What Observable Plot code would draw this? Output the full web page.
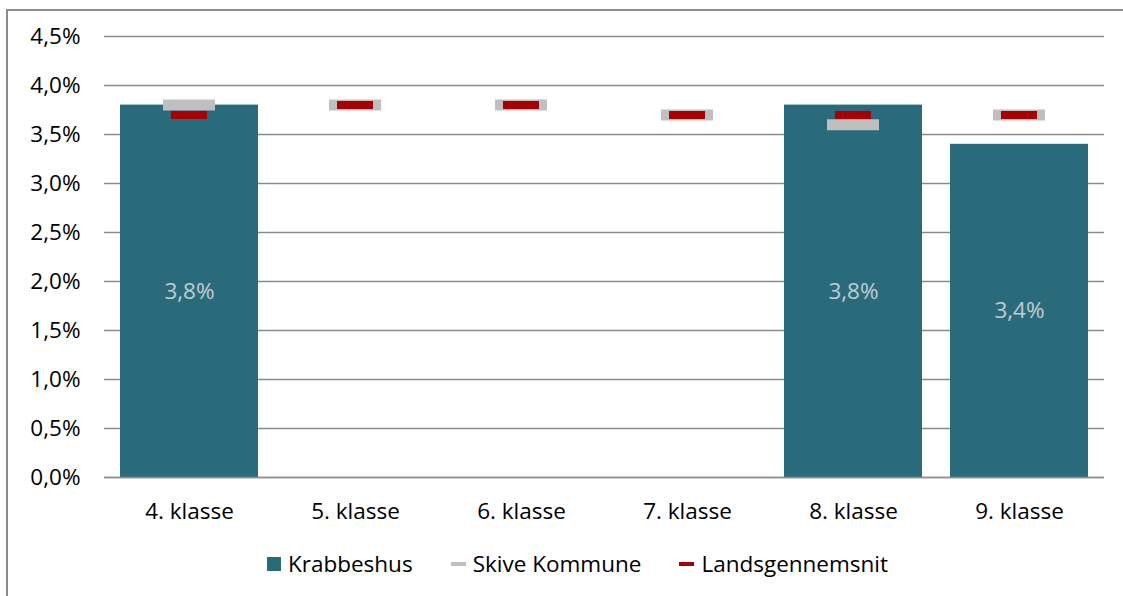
<!DOCTYPE html>
<html>
<head>
<meta charset="utf-8">
<script src="https://cdn.jsdelivr.net/npm/d3@7"></script>
<script src="https://cdn.jsdelivr.net/npm/@observablehq/plot@0.6"></script>
<style>
  html, body { margin: 0; padding: 0; background: #fff; }
  #wrap { position: relative; width: 1123px; height: 596px; overflow: hidden; font-family: "Open Sans", Lato, sans-serif; }
  #frame { position: absolute; left: 6px; top: 9px; width: 1200px; height: 700px; border: 2px solid #8c8c8c; box-sizing: border-box; }
  #chart { position: absolute; left: 0; top: 0; }
  #legend { position: absolute; left: 16px; top: 548px; width: 1123px; display: flex; justify-content: center; font-size: 22.5px; color: #000; }
  .item { display: flex; align-items: center; margin: 0 19px; }
  .sw { display: inline-block; margin-right: 7px; }
</style>
</head>
<body>
<div id="wrap">
  <div id="frame"></div>
  <div id="chart"></div>
  <div id="legend"></div>
</div>
<script>
const categories = ["4. klasse", "5. klasse", "6. klasse", "7. klasse", "8. klasse", "9. klasse"];
const krabbeshus = [3.8, null, null, null, 3.8, 3.4];
const skive = [3.8, 3.8, 3.8, 3.7, 3.6, 3.7];
const lands = [3.7, 3.8, 3.8, 3.7, 3.7, 3.7];
const yTicks = [0, 0.5, 1, 1.5, 2, 2.5, 3, 3.5, 4, 4.5];
const seriesNames = ["Krabbeshus", "Skive Kommune", "Landsgennemsnit"];
const colors = ["#296b7b", "#bfbfbf", "#a80000"];

const barData = categories.map((c, i) => ({cat: c, v: krabbeshus[i]})).filter(d => d.v != null);
const skiveData = categories.map((c, i) => ({cat: c, v: skive[i]}));
const landsData = categories.map((c, i) => ({cat: c, v: lands[i]}));
const fmt = v => v.toFixed(1).replace(".", ",") + "%";

const chart = Plot.plot({
  width: 1123,
  height: 545,
  marginLeft: 104,
  marginRight: 19,
  marginTop: 36,
  marginBottom: 68,
  style: {fontFamily: "'Open Sans', Lato, sans-serif", fontSize: "22.5px", color: "#000", background: "transparent"},
  x: {domain: categories, paddingInner: 0.166, paddingOuter: 0.083, label: null, tickSize: 0, tickPadding: 26},
  y: {domain: [0, 4.5], ticks: yTicks, tickFormat: fmt, label: null, tickSize: 0, tickPadding: 24},
  marks: [
    Plot.ruleY(yTicks, {stroke: "#8c8c8c", strokeWidth: 1.5}),
    Plot.barY(barData, {x: "cat", y: "v", fill: colors[0]}),
    Plot.ruleY([0], {stroke: "#8c8c8c", strokeWidth: 1.5}),
    Plot.tickY(skiveData, {x: "cat", y: "v", stroke: colors[1], strokeWidth: 11, insetLeft: 43, insetRight: 43}),
    Plot.tickY(landsData, {x: "cat", y: "v", stroke: colors[2], strokeWidth: 8, insetLeft: 51, insetRight: 51}),
    Plot.text(barData, {x: "cat", y: d => d.v / 2, text: d => fmt(d.v), fill: "#c3cbcf", fontSize: 22.5})
  ]
});
document.getElementById("chart").appendChild(chart);

const legend = document.getElementById("legend");
seriesNames.forEach((name, i) => {
  const item = document.createElement("div");
  item.className = "item";
  const sw = document.createElement("span");
  sw.className = "sw";
  sw.style.background = colors[i];
  if (i === 0) { sw.style.width = "14px"; sw.style.height = "14px"; }
  else { sw.style.width = "15px"; sw.style.height = "4px"; }
  item.appendChild(sw);
  const t = document.createElement("span");
  t.textContent = name;
  item.appendChild(t);
  legend.appendChild(item);
});
</script>
</body>
</html>
